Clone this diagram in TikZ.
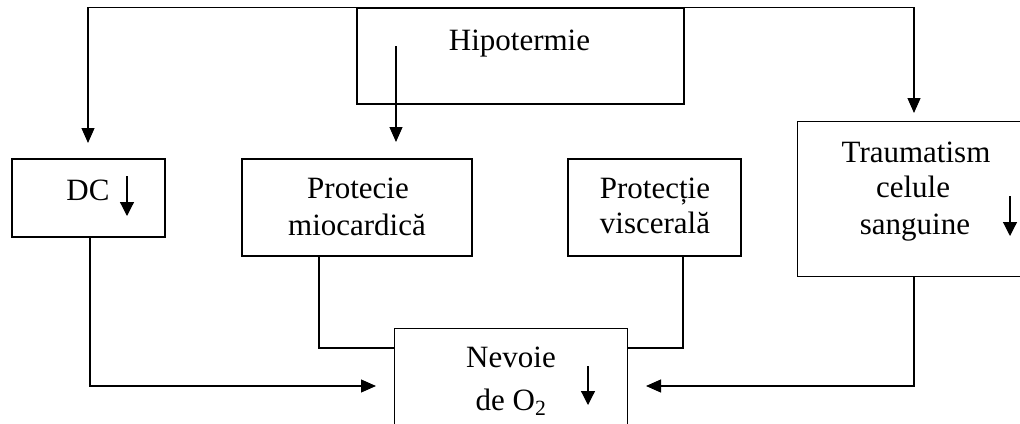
\documentclass[tikz,border=0pt]{standalone}
\usepackage{fontspec}
\setmainfont{Liberation Serif}
\usetikzlibrary{arrows.meta}
\begin{document}
\begin{tikzpicture}[x=1pt,y=-1pt,
  line width=1.2pt,
  box/.style={draw, rectangle, inner sep=0pt},
  openbox/.style={rectangle, inner sep=0pt},
  lbl/.style={anchor=base, inner sep=0pt, font=\fontsize{31}{36}\selectfont},
  arr/.style={-{Triangle[length=15pt,width=13pt]}},
  sarr/.style={-{Triangle[length=14pt,width=14pt]}}]
\useasboundingbox (0,0) rectangle (1020,423);

% boxes
\node[box, minimum width=327pt, minimum height=96pt] (hip) at (520.5,56) {};
\node[box, minimum width=153pt, minimum height=78pt] (dc) at (88.5,198) {};
\node[box, minimum width=230pt, minimum height=97pt] (p1) at (357,207.5) {};
\node[box, minimum width=173pt, minimum height=97pt] (p2) at (654.5,207.5) {};
\node[openbox, minimum width=226pt, minimum height=154pt] (trm) at (911,199) {};
\node[openbox, minimum width=232pt, minimum height=94pt] (nev) at (511,376) {};
\draw (trm.north east) -- (trm.north west) -- (trm.south west) -- (trm.south east);
\draw (nev.south west) -- (nev.north west) -- (nev.north east) -- (nev.south east);

% labels
\node[lbl] (thip) at (519.5,50) {Hipotermie};
\node[lbl] (tdc) at (88,200) {DC};
\node[lbl] (tp1a) at (358,198) {Protecie};
\node[lbl] (tp1b) at (357,235) {miocardică};
\node[lbl] (tp2a) at (655,198) {Protecție};
\node[lbl] (tp2b) at (655,233) {viscerală};
\node[lbl] (tt1) at (916,162) {Traumatism};
\node[lbl] (tt2) at (913,197) {celule};
\node[lbl] (tt3) at (915,234) {sanguine};
\node[lbl] (tn1) at (511,367) {Nevoie};
\node[lbl] (tn2) at (511,410) {de O\textsubscript{2}};

% small down arrows
\coordinate (sa1) at (127,176);
\coordinate (sa1e) at (127,216);
\draw[sarr] (sa1) -- (sa1e);
\coordinate (sa2) at (1010,196);
\coordinate (sa2e) at (1010,236);
\draw[sarr] (sa2) -- (sa2e);
\coordinate (sa3) at (588,366);
\coordinate (sa3e) at (588,405);
\draw[sarr] (sa3) -- (sa3e);

% connectors from Hipotermie
\coordinate (dcin) at (88,143);
\coordinate (trin) at (914,113);
\draw[arr] (hip.north west) -| (dcin);
\draw[arr] (hip.north east) -| (trin);
\coordinate (hin) at (396,46);
\coordinate (p1in) at (396,142);
\draw[arr] (hin) -- (p1in);

% connectors to Nevoie
\coordinate (dcout) at (90,237);
\coordinate (nl) at (376,386);
\draw[arr] (dcout) |- (nl);
\coordinate (p1out) at (319,256);
\coordinate (nwl) at (395,348);
\draw (p1out) |- (nwl);
\coordinate (p2out) at (683,256);
\coordinate (nwr) at (627,348);
\draw (p2out) |- (nwr);
\coordinate (trout) at (914,276);
\coordinate (nr) at (646,386);
\draw[arr] (trout) |- (nr);
\end{tikzpicture}
\end{document}
